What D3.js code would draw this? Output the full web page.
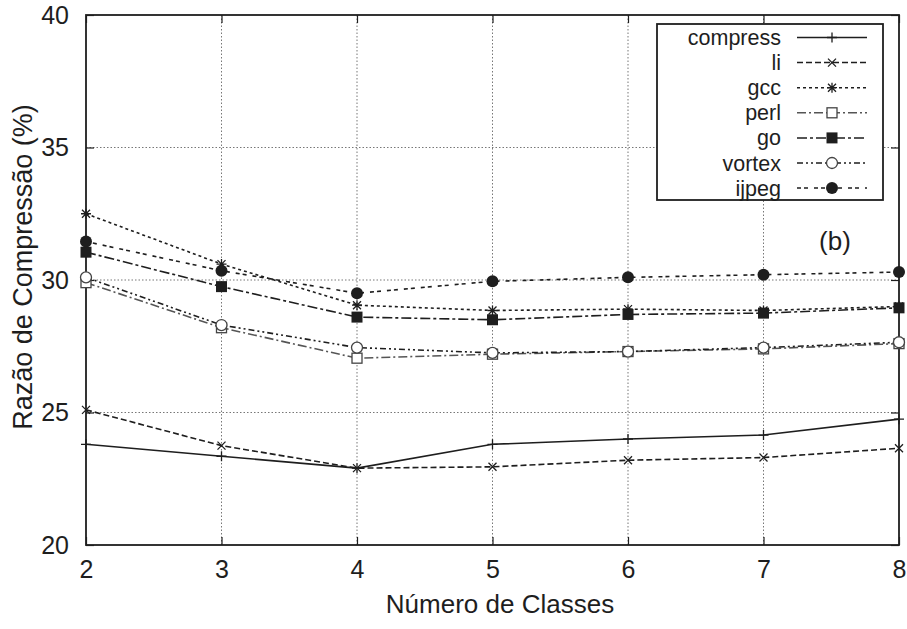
<!DOCTYPE html>
<html>
<head>
<meta charset="utf-8">
<script src="https://cdn.jsdelivr.net/npm/d3@7"></script>
<style>
  html, body { margin: 0; padding: 0; background: #fff; }
  svg text { font-family: "Liberation Sans", Arial, Helvetica, sans-serif; fill: #1e1e1e; }
</style>
</head>
<body>
<svg id="chart" width="907" height="629"></svg>
<script>
// Number of classes on the x axis
const classes = [2, 3, 4, 5, 6, 7, 8];

// Compression ratio (%) per benchmark
const compress = [23.8, 23.35, 22.9, 23.8, 24.0, 24.15, 24.75];
const li       = [25.1, 23.75, 22.9, 22.95, 23.2, 23.3, 23.65];
const gcc      = [32.5, 30.6, 29.05, 28.85, 28.9, 28.85, 29.0];
const perl     = [29.9, 28.2, 27.05, 27.2, 27.3, 27.4, 27.6];
const go       = [31.05, 29.75, 28.6, 28.5, 28.7, 28.75, 28.95];
const vortex   = [30.1, 28.3, 27.45, 27.25, 27.3, 27.45, 27.65];
const ijpeg    = [31.45, 30.35, 29.5, 29.95, 30.1, 30.2, 30.3];

const seriesNames = ["compress", "li", "gcc", "perl", "go", "vortex", "ijpeg"];
const seriesValues = [compress, li, gcc, perl, go, vortex, ijpeg];

const yTicks = [20, 25, 30, 35, 40];
const xTicks = [2, 3, 4, 5, 6, 7, 8];

// Line and marker style per series
const styles = {
  compress: { dash: null,             marker: "plus" },
  li:       { dash: "6,3",            marker: "cross" },
  gcc:      { dash: "3,3",            marker: "star" },
  perl:     { dash: "9,3,2,3",        marker: "openSquare", light: true },
  go:       { dash: "10,3,3,3",       marker: "square" },
  vortex:   { dash: "6,3,2,3,2,3",    marker: "openCircle" },
  ijpeg:    { dash: "4,3,4,6",        marker: "circle" }
};

const svg = d3.select("#chart");
const plot = { left: 86, right: 899, top: 15, bottom: 545 };

const x = d3.scaleLinear().domain([2, 8]).range([plot.left, plot.right]);
const y = d3.scaleLinear().domain([20, 40]).range([plot.bottom, plot.top]);

const ink = "#1e1e1e";

// Grid
const grid = svg.append("g");
grid.selectAll("line.gx").data(xTicks.slice(1, -1)).enter().append("line")
  .attr("x1", d => x(d)).attr("x2", d => x(d))
  .attr("y1", plot.top).attr("y2", plot.bottom)
  .attr("stroke", "#777").attr("stroke-width", 1).attr("stroke-dasharray", "1.5,2");
grid.selectAll("line.gy").data(yTicks.slice(1, -1)).enter().append("line")
  .attr("x1", plot.left).attr("x2", plot.right)
  .attr("y1", d => y(d)).attr("y2", d => y(d))
  .attr("stroke", "#777").attr("stroke-width", 1).attr("stroke-dasharray", "1.5,2");

// Axes (ticks pointing inward, mirrored on top and right)
const tickLen = 8;
const axes = svg.append("g");
axes.append("g").attr("transform", `translate(0,${plot.bottom})`)
  .call(d3.axisBottom(x).tickValues(xTicks).tickSize(-tickLen).tickPadding(15).tickFormat(d3.format("d")))
  .call(g => g.select(".domain").remove());
axes.append("g").attr("transform", `translate(0,${plot.top})`)
  .call(d3.axisTop(x).tickValues(xTicks).tickSize(-tickLen).tickFormat(""))
  .call(g => g.select(".domain").remove());
axes.append("g").attr("transform", `translate(${plot.left},0)`)
  .call(d3.axisLeft(y).tickValues(yTicks).tickSize(-tickLen).tickPadding(17).tickFormat(d3.format("d")))
  .call(g => g.select(".domain").remove());
axes.append("g").attr("transform", `translate(${plot.right},0)`)
  .call(d3.axisRight(y).tickValues(yTicks).tickSize(-tickLen).tickFormat(""))
  .call(g => g.select(".domain").remove());
axes.selectAll(".tick line").attr("stroke", ink).attr("stroke-width", 1.2);
axes.selectAll(".tick text").attr("font-size", 25).attr("fill", "#1e1e1e")
  .attr("font-family", "Liberation Sans, Arial, sans-serif");

// Frame
svg.append("rect")
  .attr("x", plot.left).attr("y", plot.top)
  .attr("width", plot.right - plot.left).attr("height", plot.bottom - plot.top)
  .attr("fill", "none").attr("stroke", ink).attr("stroke-width", 1.8);

// Marker drawing
function drawMarker(g, type, cx, cy) {
  const m = g.append("g").attr("transform", `translate(${cx},${cy})`);
  switch (type) {
    case "plus":
      m.append("path").attr("d", "M-5,0H5M0,-5V5").attr("stroke", ink).attr("stroke-width", 1.3);
      break;
    case "cross":
      m.append("path").attr("d", "M-4,-4L4,4M-4,4L4,-4").attr("stroke", ink).attr("stroke-width", 1.3);
      break;
    case "star":
      m.append("path").attr("d", "M-5,0H5M0,-5V5M-4,-4L4,4M-4,4L4,-4").attr("stroke", ink).attr("stroke-width", 1.3);
      break;
    case "openSquare":
      m.append("rect").attr("x", -5).attr("y", -5).attr("width", 10).attr("height", 10)
        .attr("fill", "#fff").attr("stroke", "#444").attr("stroke-width", 1.3);
      break;
    case "square":
      m.append("rect").attr("x", -5.5).attr("y", -5.5).attr("width", 11).attr("height", 11).attr("fill", ink);
      break;
    case "openCircle":
      m.append("circle").attr("r", 5.5).attr("fill", "#fff").attr("stroke", "#444").attr("stroke-width", 1.3);
      break;
    case "circle":
      m.append("circle").attr("r", 6).attr("fill", ink);
      break;
  }
}

// Series lines and markers
const line = d3.line().x((d, i) => x(classes[i])).y(d => y(d));
const series = svg.append("g");
seriesNames.forEach((name, si) => {
  const st = styles[name];
  series.append("path")
    .datum(seriesValues[si])
    .attr("d", line)
    .attr("fill", "none")
    .attr("stroke", st.light ? "#555" : ink)
    .attr("stroke-width", 1.6)
    .attr("stroke-dasharray", st.dash);
});
seriesNames.forEach((name, si) => {
  const st = styles[name];
  seriesValues[si].forEach((v, i) => drawMarker(series, st.marker, x(classes[i]), y(v)));
});

// Panel tag
svg.append("text").attr("x", 835).attr("y", 250).attr("text-anchor", "middle")
  .attr("font-size", 26).text("(b)");

// Legend
const legend = svg.append("g");
legend.append("rect").attr("x", 657).attr("y", 24).attr("width", 226).attr("height", 176)
  .attr("fill", "#fff").attr("stroke", ink).attr("stroke-width", 1.8);
seriesNames.forEach((name, i) => {
  const st = styles[name];
  const cy = 37.5 + i * 25.1;
  legend.append("text").attr("x", 781).attr("y", cy).attr("dy", "0.35em")
    .attr("text-anchor", "end").attr("font-size", 21.5).text(name);
  legend.append("line").attr("x1", 797).attr("x2", 867).attr("y1", cy).attr("y2", cy)
    .attr("stroke", st.light ? "#555" : ink).attr("stroke-width", 1.5)
    .attr("stroke-dasharray", st.dash);
  drawMarker(legend, st.marker, 832, cy);
});

// Axis titles
svg.append("text").attr("x", 500).attr("y", 613).attr("text-anchor", "middle")
  .attr("font-size", 26).text("Número de Classes");
svg.append("text").attr("transform", "translate(32,267) rotate(-90)")
  .attr("text-anchor", "middle").attr("font-size", 27).text("Razão de Compressão (%)");
</script>
</body>
</html>
